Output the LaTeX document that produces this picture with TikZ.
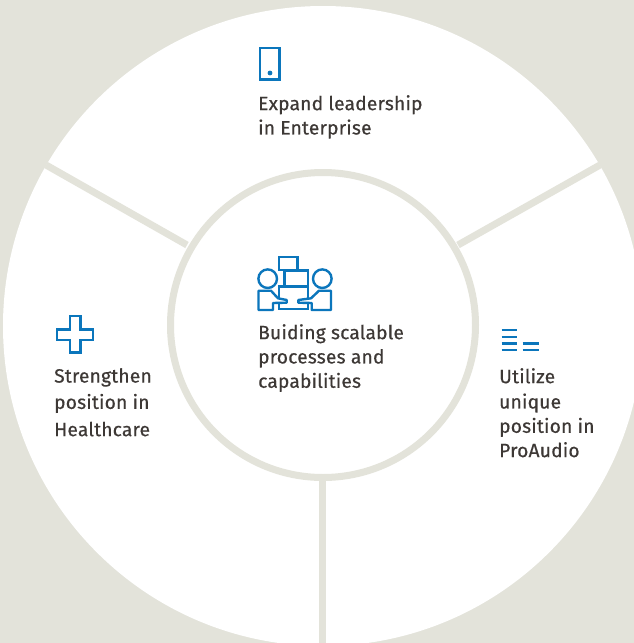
\documentclass[tikz,border=0pt]{standalone}
\usepackage{fontspec}
\setmainfont[LetterSpace=1.0,FakeBold=0.5]{Fira Sans}
\definecolor{bgc}{HTML}{E3E3DA}
\definecolor{iconc}{HTML}{0B76BC}
\definecolor{txtc}{HTML}{3D3835}
\tikzset{
  ring/.style={draw=bgc,line width=7pt},
  spoke/.style={draw=bgc,line width=7pt},
  icon/.style={draw=iconc,line width=2.4pt,line join=miter},
  lab/.style={anchor=north west,inner sep=0pt,align=left,text=txtc,font=\fontsize{19.2}{24.3}\selectfont}
}
\begin{document}
\begin{tikzpicture}[x=1pt,y=-1pt]
\useasboundingbox (0,0) rectangle (634,643);
\fill[bgc] (0,0) rectangle (634,643);
\coordinate (c) at (323,326);
\fill[white] (c) circle (320);
\coordinate (a1) at (46,165);
\coordinate (a2) at (187,245);
\coordinate (b1) at (600,165);
\coordinate (b2) at (458,245);
\coordinate (d1) at (322.7,478);
\coordinate (d2) at (322.7,643);
\draw[spoke] (a1) -- (a2);
\draw[spoke] (b1) -- (b2);
\draw[spoke] (d1) -- (d2);
\draw[ring,fill=white] (323,325) circle (152.5);
% phone
\draw[icon] (260,48) rectangle (279.5,79.5);
\fill[iconc] (270,73) circle (2.4);
% people and boxes
\draw[icon] (279,257) rectangle (297.5,270);
\draw[icon] (284.5,270.5) rectangle (308,286);
\draw[icon] (279,286.5) rectangle (308,309);
\draw[icon] (267.7,278.7) circle (9.3);
\draw[icon] (322.3,278.7) circle (9.3);
\draw[icon,line join=round,fill=white] (258.5,310) -- (258.5,290.7) -- (271,290.7) -- (278,298.3) -- (286.7,300) -- (286.7,302.7) -- (273,303) -- (273,310) -- cycle;
\draw[icon,line join=round,fill=white] (331,310) -- (331,290.7) -- (319,290.7) -- (311,298.3) -- (298.3,300) -- (298.3,302.7) -- (311.7,303) -- (311.7,310) -- cycle;
% cross
\draw[icon] (70,316) -- (80.5,316) -- (80.5,329.5) -- (93,329.5) -- (93,340) -- (80.5,340) -- (80.5,352.5) -- (70,352.5) -- (70,340) -- (57,340) -- (57,329.5) -- (70,329.5) -- cycle;
% lines
\foreach \yy in {330,336.7,343.3,350} \draw[icon] (501.7,\yy) -- (517.3,\yy);
\foreach \yy in {343.3,350} \draw[icon] (522.7,\yy) -- (539,\yy);
\node[lab] (t1) at (258,95) {Expand leadership\\in Enterprise};
\node[lab] (t2) at (258,324) {Buiding scalable\\processes and\\capabilities};
\node[lab] (t3) at (54,368) {Strengthen\\[2pt]position in\\[3pt]Healthcare};
\node[lab] (t4) at (499,368) {Utilize\\[1pt]unique\\position in\\ProAudio};
\end{tikzpicture}
\end{document}
